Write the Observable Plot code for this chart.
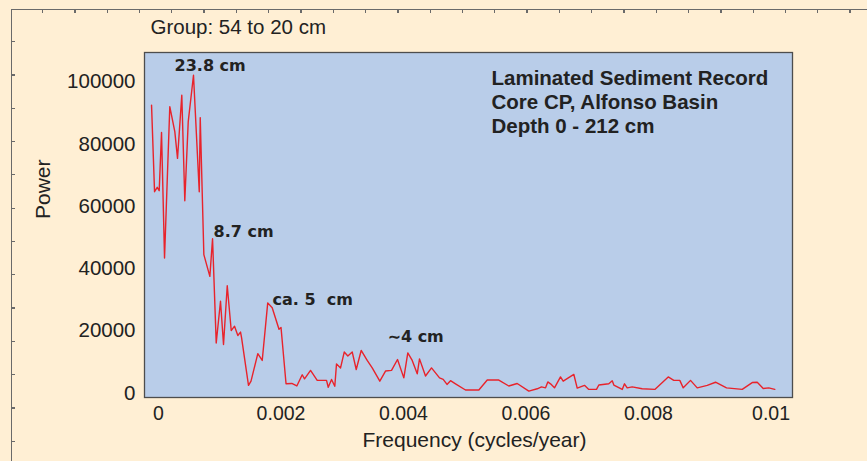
<!DOCTYPE html>
<html>
<head>
<meta charset="utf-8">
<script src="https://cdn.jsdelivr.net/npm/d3@7"></script>
<script src="https://cdn.jsdelivr.net/npm/@observablehq/plot@0.6"></script>
<style>
  html, body { margin: 0; padding: 0; background: #FFEFD4; }
  #wrap { position: relative; width: 867px; height: 461px; overflow: hidden; background: #FFEFD4; }
  #border { position: absolute; left: 11px; top: 9px; right: -2px; bottom: -2px;
            border-left: 1.5px solid #6a6a6a; border-top: 1.5px solid #6a6a6a; }
  #tickTop { position: absolute; left: 11px; top: 9px; right: 0; height: 4px;
             background: repeating-linear-gradient(to right, transparent 0px, transparent 31px, #6a6a6a 31px, #6a6a6a 32.3px); }
  #tickLeft { position: absolute; left: 11px; top: 9px; bottom: 0; width: 4px;
              background: repeating-linear-gradient(to bottom, transparent 0px, transparent 32px, #6a6a6a 32px, #6a6a6a 33.3px); }
  #chart { position: absolute; left: 0; top: 0; }
  #chart svg { overflow: visible; }
</style>
</head>
<body>
<div id="wrap">
  <div id="border"></div>
  <div id="tickTop"></div>
  <div id="tickLeft"></div>
  <div id="chart"></div>
</div>
<script>
// Frequency (cycles/year)
const freq = [
  -0.000114, -0.000065, -0.000021, 0.000011, 0.000049, 0.000098, 0.000184, 0.000266, 0.000310, 0.000380,
  0.000429, 0.000485, 0.000571, 0.000665, 0.000681, 0.000740, 0.000838, 0.000882, 0.000942, 0.001012,
  0.001061, 0.001122, 0.001187, 0.001241, 0.001295, 0.001339, 0.001355, 0.001469, 0.001510, 0.001621,
  0.001693, 0.001783, 0.001856, 0.001967, 0.002000, 0.002082, 0.002176, 0.002258, 0.002346, 0.002384,
  0.002482, 0.002591, 0.002743, 0.002771, 0.002825, 0.002878, 0.002906, 0.002972, 0.003032, 0.003091,
  0.003163, 0.003228, 0.003309, 0.003407, 0.003489, 0.003613, 0.003706, 0.003804, 0.003902, 0.004005,
  0.004070, 0.004142, 0.004224, 0.004261, 0.004359, 0.004457, 0.004588, 0.004648, 0.004710, 0.004767,
  0.004849, 0.005012, 0.005230, 0.005367, 0.005556, 0.005719, 0.005856, 0.006046, 0.006183, 0.006253,
  0.006319, 0.006356, 0.006400, 0.006465, 0.006563, 0.006607, 0.006781, 0.006836, 0.006955, 0.007025,
  0.007151, 0.007189, 0.007352, 0.007408, 0.007434, 0.007571, 0.007608, 0.007652, 0.007734, 0.007897,
  0.008103, 0.008322, 0.008413, 0.008511, 0.008567, 0.008686, 0.008795, 0.008959, 0.009094, 0.009274,
  0.009530, 0.009693, 0.009775, 0.009873, 0.009964, 0.010062
];
// Power
const power = [
  92500, 64700, 66100, 65000, 83700, 43400, 92000, 84000, 75400, 95700,
  61800, 87200, 102100, 64700, 88500, 44500, 37500, 49600, 16100, 29500,
  15600, 34500, 20100, 21500, 18500, 19600, 17900, 2500, 3850, 12700,
  10500, 29000, 27400, 20500, 21100, 3000, 3100, 2300, 5900, 4600,
  7300, 4100, 4100, 1900, 4400, 2200, 9400, 8100, 13200, 11900,
  13200, 7600, 13700, 10500, 8100, 3850, 7100, 7300, 10800, 4900,
  12900, 10500, 6200, 11000, 5500, 8100, 4900, 4400, 2800, 4000,
  3000, 1000, 1000, 4200, 4200, 2300, 3100, 650, 1400, 2000,
  1700, 3600, 3000, 1700, 5200, 3850, 6000, 1600, 2500, 1200,
  1200, 2600, 3000, 3950, 2600, 1200, 3000, 1700, 2000, 1400,
  1200, 5200, 4100, 4100, 1700, 4100, 1700, 2500, 3500, 1700,
  1200, 3400, 3500, 1500, 1700, 1200
];

// Peak annotations
const peakLabels = ["23.8 cm", "8.7 cm", "ca. 5\u00a0 cm", "\u223c4 cm"];
const peakFreq   = [0.000262, 0.000898, 0.001861, 0.003739];
const peakPower  = [105200, 51750, 29970, 17950];

// Ticks
const xTicks = [0, 0.002, 0.004, 0.006, 0.008, 0.01];
const xTickLabels = ["0", "0.002", "0.004", "0.006", "0.008", "0.01"];
const yTicks = [0, 20000, 40000, 60000, 80000, 100000];
const yTickLabels = ["0", "20000", "40000", "60000", "80000", "100000"];

const groupTitle = "Group: 54 to 20 cm";
const boxTitle = "Laminated Sediment Record\nCore CP, Alfonso Basin\nDepth 0 - 212 cm";
const xLabel = "Frequency (cycles/year)";
const yLabel = "Power";

const data = freq.map((f, i) => ({f, p: power[i]}));
const peaks = peakLabels.map((t, i) => ({t, f: peakFreq[i], p: peakPower[i]}));

const font = "'Liberation Sans', Arial, Helvetica, sans-serif";

const chart = Plot.plot({
  width: 867,
  height: 461,
  marginLeft: 144,
  marginRight: 75,
  marginTop: 52,
  marginBottom: 64,
  style: {background: "transparent", fontFamily: font, fontSize: "19px", color: "#222"},
  x: {domain: [-0.000229, 0.010351]},
  y: {domain: [-1400, 109400]},
  marks: [
    Plot.frame({fill: "#B9CDE9", stroke: "#4d4d4d", strokeWidth: 1.3}),
    Plot.axisY({ticks: yTicks, tickSize: 0, tickPadding: 9, label: null,
      tickFormat: d => yTickLabels[yTicks.indexOf(d)], fontSize: 20.5, fill: "#222"}),
    Plot.axisX({ticks: xTicks, tickSize: 0, tickPadding: 9, label: null,
      tickFormat: d => xTickLabels[xTicks.indexOf(d)], fontSize: 19.5, fill: "#222"}),
    Plot.line(data, {x: "f", y: "p", stroke: "#E8232B", strokeWidth: 1.4}),
    Plot.text(peaks, {x: "f", y: "p", text: "t", textAnchor: "start", lineAnchor: "middle",
      fontFamily: "'DejaVu Sans', sans-serif", fontWeight: "bold", fontSize: 16, fill: "#222"}),
    Plot.text([boxTitle], {frameAnchor: "top-left", dx: 347, dy: 49, textAnchor: "start",
      lineAnchor: "middle", lineHeight: 1.17, fontWeight: "bold", fontSize: 20.5, fill: "#222"}),
    Plot.text([groupTitle], {frameAnchor: "top-left", dx: 6, dy: -25, textAnchor: "start",
      lineAnchor: "middle", fontSize: 20.5, fill: "#222"}),
    Plot.text([xLabel], {frameAnchor: "bottom", dx: 6, dy: 43, lineAnchor: "middle",
      fontSize: 21, fill: "#222"}),
    Plot.text([yLabel], {frameAnchor: "left", dx: -101, dy: -6, rotate: -90, lineAnchor: "middle",
      fontSize: 21, fill: "#222"})
  ]
});
document.getElementById("chart").appendChild(chart);
</script>
</body>
</html>
